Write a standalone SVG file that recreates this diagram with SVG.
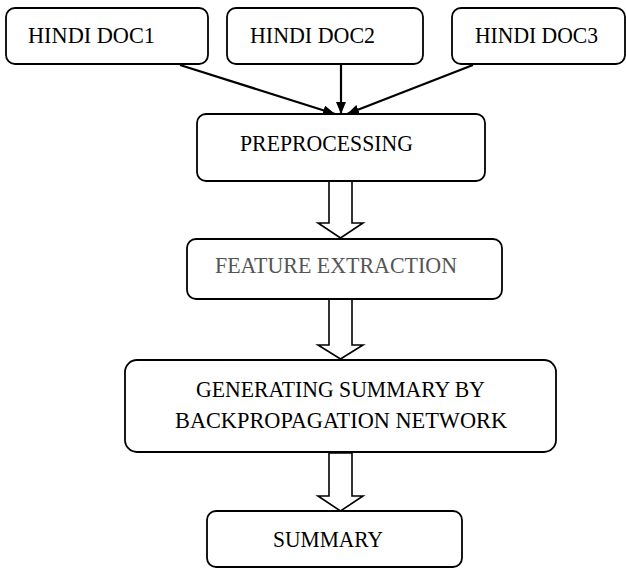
<svg xmlns="http://www.w3.org/2000/svg" width="626" height="569" viewBox="0 0 626 569">
<defs>
<style>
.box{fill:#fff;stroke:#000;stroke-width:1.8}
.t{font-family:"Liberation Serif","Times New Roman",serif;font-size:24px;fill:#000}
.g{fill:#555}
.ln{stroke:#000;stroke-width:2.2;fill:none}
.blk{fill:#fff;stroke:#000;stroke-width:1.6;stroke-linejoin:miter}
</style>
<marker id="ah" viewBox="0 0 12 10" refX="12" refY="5" markerWidth="12" markerHeight="10" markerUnits="userSpaceOnUse" orient="auto">
<path d="M0,0 L12,5 L0,10 Z" fill="#000"/>
</marker>
</defs>
<rect width="626" height="569" fill="#fff"/>
<g id="connectors">
<line class="ln" x1="180" y1="65" x2="335" y2="114" marker-end="url(#ah)"/>
<line class="ln" x1="341" y1="64" x2="341" y2="114" marker-end="url(#ah)"/>
<line class="ln" x1="473" y1="65" x2="347" y2="114" marker-end="url(#ah)"/>
<polygon class="blk" points="329,181 352,181 352,223 363,223 340.5,238 318,223 329,223"/>
<polygon class="blk" points="329,299 352,299 352,345 363,345 340.5,359 318,345 329,345"/>
<polygon class="blk" points="329,453 352,453 352,496 363,496 340.5,511 318,496 329,496"/>
</g>
<g id="doc1">
<rect class="box" x="6" y="8" width="202" height="56" rx="9"/>
<text class="t" x="28" y="43" textLength="127" lengthAdjust="spacingAndGlyphs">HINDI DOC1</text>
</g>
<g id="doc2">
<rect class="box" x="227" y="8" width="196" height="56" rx="9"/>
<text class="t" x="250" y="43" textLength="125" lengthAdjust="spacingAndGlyphs">HINDI DOC2</text>
</g>
<g id="doc3">
<rect class="box" x="452" y="8" width="173" height="56" rx="9"/>
<text class="t" x="475" y="43" textLength="123" lengthAdjust="spacingAndGlyphs">HINDI DOC3</text>
</g>
<g id="preprocessing">
<rect class="box" x="197" y="114" width="288" height="67" rx="9"/>
<text class="t" x="240" y="151" textLength="173" lengthAdjust="spacingAndGlyphs">PREPROCESSING</text>
</g>
<g id="feature">
<rect class="box" x="187" y="239" width="315" height="60" rx="9"/>
<text class="t g" x="215" y="273" textLength="242" lengthAdjust="spacingAndGlyphs">FEATURE EXTRACTION</text>
</g>
<g id="generating">
<rect class="box" x="125" y="360" width="431" height="92" rx="12"/>
<text class="t" x="196" y="397" textLength="289" lengthAdjust="spacingAndGlyphs">GENERATING SUMMARY BY</text>
<text class="t" x="175" y="428" textLength="332" lengthAdjust="spacingAndGlyphs">BACKPROPAGATION NETWORK</text>
</g>
<g id="summary">
<rect class="box" x="207" y="511" width="255" height="56" rx="9"/>
<text class="t" x="273" y="547" textLength="110" lengthAdjust="spacingAndGlyphs">SUMMARY</text>
</g>
</svg>
